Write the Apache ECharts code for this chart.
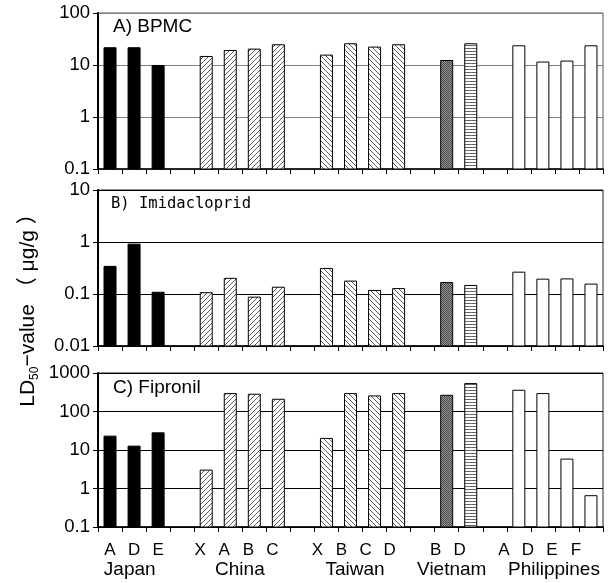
<!DOCTYPE html>
<html>
<head>
<meta charset="utf-8">
<script src="https://cdn.jsdelivr.net/npm/echarts@6/dist/echarts.min.js"></script>
<style>
  html, body { margin: 0; padding: 0; background: #fff; }
  #chart { width: 614px; height: 583px; }
</style>
</head>
<body>
<div id="chart"></div>
<script>
// data
const countries = ["Japan", "China", "Taiwan", "Vietnam", "Philippines"];
const strains = [
  ["A", "D", "E"],
  ["X", "A", "B", "C"],
  ["X", "B", "C", "D"],
  ["B", "D"],
  ["A", "D", "E", "F"],
];
const bpmcValues = [
  [21.5, 21.5, 9.8],
  [14.6, 19.0, 20.2, 24.5],
  [15.5, 25.6, 22.1, 24.5],
  [12.2, 25.6],
  [23.4, 11.4, 11.9, 23.4],
];
const imidaclopridValues = [
  [0.34, 0.91, 0.108],
  [0.106, 0.20, 0.087, 0.135],
  [0.31, 0.177, 0.117, 0.127],
  [0.166, 0.146],
  [0.263, 0.193, 0.195, 0.155],
];
const fipronilValues = [
  [22.9, 12.6, 27.9],
  [3.0, 292, 281, 208],
  [20, 292, 254, 292],
  [264, 531],
  [356, 292, 5.8, 0.65],
];
const panelTitles = ["A) BPMC", "B) Imidacloprid", "C) Fipronil"];
const axisMin = [0.1, 0.01, 0.1];
const axisMax = [100, 10, 1000];
const yAxisName = "LD{sub|50}\u2212value \uff08 \u03bcg/g \uff09";

// layout / style
const GRID_LEFT = 98;
const GRID_RIGHT = 11;
const GRIDS = [
  { top: 13, height: 156 },
  { top: 190, height: 156 },
  { top: 373, height: 154 },
];
const BAR_WIDTH = 12;
const SANS = "'Liberation Sans', Arial, 'Noto Sans CJK JP', sans-serif";
const TITLE_STYLE = [
  { left: 113, top: 17, fontSize: 19, fontFamily: SANS },
  { left: 111, top: 196, fontSize: 15.5, fontFamily: "'DejaVu Sans Mono', monospace" },
  { left: 113, top: 378, fontSize: 19, fontFamily: SANS },
];
const LABEL_SHIFT = [0, 6, 9, 11, 15];
const COUNTRY_LABEL_AT = [1.32, 5.9, 10.69, 14.71, 18.96];

function makePattern(size, draw) {
  const canvas = document.createElement("canvas");
  canvas.width = size;
  canvas.height = size;
  const ctx = canvas.getContext("2d");
  ctx.fillStyle = "#fff";
  ctx.fillRect(0, 0, size, size);
  draw(ctx, size);
  return { image: canvas, repeat: "repeat" };
}

const fills = {
  solid: "#000",
  white: "#fff",
  slash: makePattern(5, (ctx, s) => {
    ctx.strokeStyle = "#333";
    ctx.lineWidth = 0.8;
    [-s, 0, s].forEach((k) => {
      ctx.beginPath();
      ctx.moveTo(k, s);
      ctx.lineTo(k + s, 0);
      ctx.stroke();
    });
  }),
  backslash: makePattern(5, (ctx, s) => {
    ctx.strokeStyle = "#333";
    ctx.lineWidth = 0.8;
    [-s, 0, s].forEach((k) => {
      ctx.beginPath();
      ctx.moveTo(k, 0);
      ctx.lineTo(k + s, s);
      ctx.stroke();
    });
  }),
  dots: makePattern(2, (ctx) => {
    ctx.fillStyle = "#999";
    ctx.fillRect(0, 0, 2, 2);
    ctx.fillStyle = "#444";
    ctx.fillRect(0, 0, 1, 1);
    ctx.fillRect(1, 1, 1, 1);
  }),
  stripes: makePattern(3, (ctx) => {
    ctx.fillStyle = "#666";
    ctx.fillRect(0, 0, 3, 1);
  }),
};

function fillFor(country, strain) {
  if (country === 0) return fills.solid;
  if (country === 1) return fills.slash;
  if (country === 2) return fills.backslash;
  if (country === 3) return strain === 0 ? fills.dots : fills.stripes;
  return fills.white;
}

// flatten groups with an empty category between countries
const categories = [];
const categoryCountry = [];
const categoryFill = [];
strains.forEach((list, c) => {
  if (c > 0) {
    categories.push("");
    categoryCountry.push(-1);
    categoryFill.push(null);
  }
  list.forEach((name, s) => {
    categories.push(name);
    categoryCountry.push(c);
    categoryFill.push(fillFor(c, s));
  });
});

function flatten(groups) {
  const out = [];
  let idx = 0;
  groups.forEach((list, c) => {
    if (c > 0) idx += 1;
    list.forEach((v) => {
      out.push([idx, v]);
      idx += 1;
    });
  });
  return out;
}

const panelData = [bpmcValues, imidaclopridValues, fipronilValues].map(flatten);

function renderBar(params, api) {
  const value = api.value(1);
  if (value == null || Number.isNaN(value)) {
    return null;
  }
  const cat = api.value(0);
  const top = api.coord([cat, value]);
  const bottom = params.coordSys.y + params.coordSys.height;
  return {
    type: "rect",
    shape: { x: top[0] - BAR_WIDTH / 2, y: top[1], width: BAR_WIDTH, height: bottom - top[1] },
    style: { fill: categoryFill[cat], stroke: "#000", lineWidth: 1 },
  };
}

const labelRich = {};
LABEL_SHIFT.forEach((shift, c) => {
  labelRich[`c${c}`] = {
    fontSize: 17,
    fontFamily: SANS,
    color: "#000",
    padding: [0, shift * 2, 0, 0],
  };
});

const chart = echarts.init(document.getElementById("chart"), null, { renderer: "canvas" });
const plotWidth = 614 - GRID_LEFT - GRID_RIGHT;
const band = plotWidth / categories.length;

chart.setOption({
  animation: false,
  backgroundColor: "#fff",
  title: panelTitles.map((text, i) => ({
    text,
    left: TITLE_STYLE[i].left,
    top: TITLE_STYLE[i].top,
    padding: 0,
    textStyle: {
      fontSize: TITLE_STYLE[i].fontSize,
      fontFamily: TITLE_STYLE[i].fontFamily,
      fontWeight: "normal",
      color: "#000",
    },
  })),
  grid: GRIDS.map((g, i) => ({
    left: GRID_LEFT,
    right: GRID_RIGHT,
    top: g.top,
    height: g.height,
    show: true,
    borderColor: i === 0 ? "#555" : "#222",
    borderWidth: 1,
  })),
  xAxis: GRIDS.map((g, i) => ({
    type: "category",
    gridIndex: i,
    data: categories,
    axisLine: { show: true, lineStyle: { color: "#000", width: 1.5 } },
    axisTick: { show: true, interval: 0, length: 5, lineStyle: { color: "#000", width: 1 } },
    axisLabel: {
      show: i === 2,
      interval: 0,
      margin: 15,
      fontSize: 17,
      fontFamily: SANS,
      color: "#000",
      formatter: (value, idx) => (value ? `{c${categoryCountry[idx]}|${value}}` : ""),
      rich: labelRich,
    },
    splitLine: { show: false },
  })),
  yAxis: GRIDS.map((g, i) => ({
    type: "log",
    logBase: 10,
    gridIndex: i,
    min: axisMin[i],
    max: axisMax[i],
    axisLine: { show: true, lineStyle: { color: "#000", width: 2 } },
    axisTick: { show: true, length: 5, lineStyle: { color: "#000" } },
    axisLabel: {
      fontSize: 18.5,
      fontFamily: SANS,
      color: "#000",
      margin: 8,
      formatter: (v) => String(Number(v.toPrecision(6))),
    },
    splitLine: { show: true, lineStyle: { color: i === 0 ? "#808080" : "#000", width: 1 } },
  })),
  series: panelData.map((data, i) => ({
    type: "custom",
    xAxisIndex: i,
    yAxisIndex: i,
    renderItem: renderBar,
    encode: { x: 0, y: 1 },
    data,
    z: 3,
  })),
  graphic: [
    {
      type: "text",
      x: 28,
      y: 305,
      rotation: Math.PI / 2,
      style: {
        text: yAxisName,
        fontSize: 21,
        fontFamily: SANS,
        fill: "#000",
        align: "center",
        verticalAlign: "middle",
        lineHeight: 26,
        rich: {
          sub: { fontSize: 12, fontFamily: SANS, fill: "#000", verticalAlign: "bottom" },
        },
      },
    },
  ].concat(
    countries.map((name, c) => ({
      type: "text",
      x: GRID_LEFT + band * COUNTRY_LABEL_AT[c],
      y: 570,
      style: {
        text: name,
        fontSize: 19,
        fontFamily: SANS,
        fill: "#000",
        align: "center",
        verticalAlign: "middle",
      },
    }))
  ),
});
</script>
</body>
</html>
